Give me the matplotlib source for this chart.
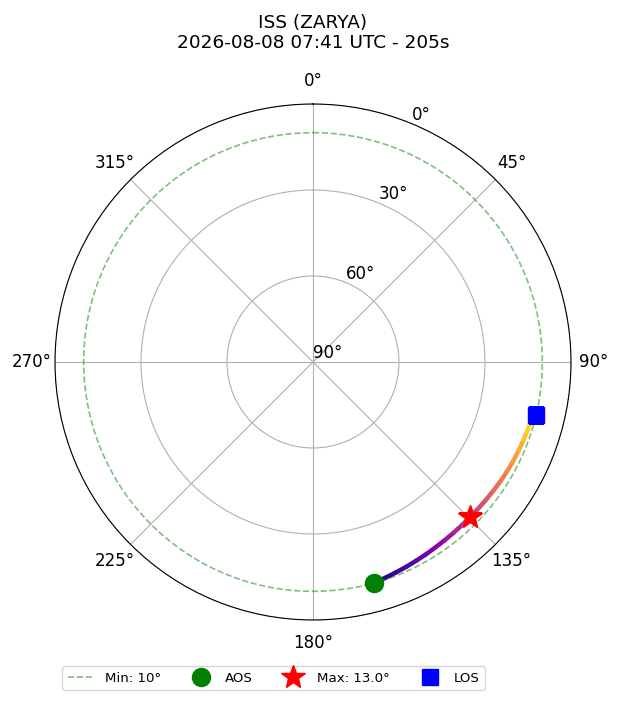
import numpy as np
import matplotlib
matplotlib.use('Agg')
import matplotlib.pyplot as plt
from matplotlib.collections import LineCollection

# pass data (azimuth deg, elevation deg)
sat_name = 'ISS (ZARYA)'
pass_start = '2026-08-08 07:41 UTC'
duration_s = 205
min_el = 10
max_el_label = 13.0

track_az = [164.6, 161.5, 158.5, 155.5, 152.5, 149.5, 146.5, 143.5, 140.5, 137.5,
            134.6, 131.5, 128.5, 125.5, 122.5, 119.5, 116.5, 113.5, 110.5, 108.0, 106.0]
track_el = [10.0, 10.6, 11.1, 11.5, 11.9, 12.2, 12.5, 12.7, 12.85, 12.95,
            13.0, 12.95, 12.85, 12.7, 12.5, 12.3, 12.1, 11.9, 11.7, 11.5, 11.3]

aos_az, aos_el = 164.6, 10.0
max_az, max_el = 134.6, 13.0
los_az, los_el = 103.4, 10.0

r_ticks = [0, 30, 60, 90]
r_labels = ['90°', '60°', '30°', '0°']

fig = plt.figure(figsize=(6.2, 7.02), dpi=100)
ax = fig.add_axes([55/620, 82/702, 516/620, 516/702], projection='polar')
ax.set_theta_zero_location('N')
ax.set_theta_direction(-1)
ax.set_rlim(0, 90)
ax.set_yticks(r_ticks)
ax.set_yticklabels(r_labels)
ax.tick_params(labelsize=12)
ax.tick_params(axis='x', pad=6)

th = np.radians(track_az)
rr = 90 - np.array(track_el)
pts = np.column_stack([th, rr]).reshape(-1, 1, 2)
segs = np.concatenate([pts[:-1], pts[1:]], axis=1)
lc = LineCollection(segs, cmap='plasma', linewidth=3.2, capstyle='round')
lc.set_array(np.arange(len(segs)))
lc.set_clim(0, len(segs) * 1.04)
ax.add_collection(lc)

circ = np.linspace(0, 2*np.pi, 361)
ax.plot(circ, np.full_like(circ, 90 - min_el), '--', color='green', alpha=0.5,
        linewidth=1.2, label=f'Min: {min_el}°')
ax.plot(np.radians(aos_az), 90 - aos_el, 'o', color='green', markersize=13, label='AOS', linestyle='none')
ax.plot(np.radians(max_az), 90 - max_el, '*', color='red', markersize=18, label=f'Max: {max_el_label}°', linestyle='none')
ax.plot(np.radians(los_az), 90 - los_el, 's', color='blue', markersize=12, label='LOS', linestyle='none')
ax.set_rlim(0, 90)

ax.set_title(f'{sat_name}\n{pass_start} - {duration_s}s', fontsize=13.3, pad=17)
ax.legend(loc='center', bbox_to_anchor=(273.5/620, 1 - 678/702), bbox_transform=fig.transFigure,
          ncol=4, fontsize=9.6)

fig.savefig('out.png', dpi=100)
